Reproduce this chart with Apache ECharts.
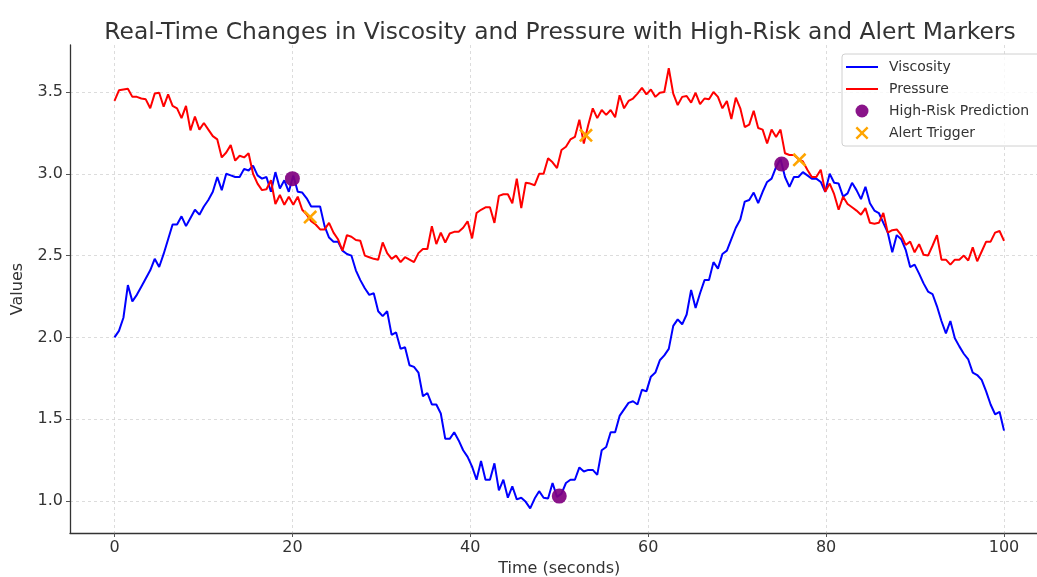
<!DOCTYPE html>
<html>
<head>
<meta charset="utf-8">
<title>Viscosity and Pressure</title>
<script src="https://cdn.jsdelivr.net/npm/echarts@6/dist/echarts.min.js"></script>
<style>
	html, body { margin: 0; padding: 0; background: #fff; }
	#chart { width: 1037px; height: 577px; }
</style>
</head>
<body>
<div id="chart"></div>
<script>
	// values, 200 samples from t = 0 to t = 100
	var viscosity = [
		2.00, 2.04, 2.12, 2.32, 2.22, 2.26, 2.31, 2.36, 2.41, 2.48,
		2.43, 2.51, 2.60, 2.69, 2.69, 2.74, 2.68, 2.73, 2.78, 2.75,
		2.80, 2.84, 2.89, 2.98, 2.90, 3.00, 2.99, 2.98, 2.98, 3.03,
		3.02, 3.05, 2.99, 2.97, 2.98, 2.89, 3.01, 2.91, 2.96, 2.89,
		2.99, 2.89, 2.885, 2.85, 2.80, 2.80, 2.80, 2.68, 2.61, 2.585,
		2.585, 2.53, 2.51, 2.50, 2.41, 2.35, 2.30, 2.26, 2.27, 2.16,
		2.13, 2.16, 2.015, 2.03, 1.93, 1.94, 1.83, 1.82, 1.785, 1.64,
		1.66, 1.59, 1.59, 1.535, 1.38, 1.38, 1.42, 1.37, 1.31, 1.27,
		1.21, 1.13, 1.245, 1.13, 1.13, 1.23, 1.065, 1.13, 1.02, 1.09,
		1.01, 1.02, 0.995, 0.955, 1.015, 1.06, 1.02, 1.015, 1.11, 1.025,
		1.045, 1.11, 1.13, 1.13, 1.205, 1.18, 1.19, 1.19, 1.16, 1.31,
		1.33, 1.42, 1.42, 1.52, 1.56, 1.60, 1.61, 1.59, 1.68, 1.67,
		1.76, 1.785, 1.86, 1.89, 1.93, 2.07, 2.11, 2.08, 2.14, 2.29,
		2.18, 2.27, 2.35, 2.35, 2.46, 2.42, 2.51, 2.53, 2.60, 2.67,
		2.72, 2.83, 2.84, 2.885, 2.82, 2.89, 2.95, 2.97, 3.04, 3.09,
		2.98, 2.92, 2.98, 2.98, 3.01, 2.99, 2.97, 2.97, 2.95, 2.89,
		3.00, 2.945, 2.94, 2.86, 2.88, 2.945, 2.90, 2.845, 2.92, 2.82,
		2.775, 2.76, 2.70, 2.64, 2.52, 2.625, 2.60, 2.535, 2.43, 2.445,
		2.39, 2.33, 2.28, 2.265, 2.19, 2.10, 2.025, 2.10, 1.995, 1.945,
		1.90, 1.865, 1.785, 1.77, 1.74, 1.67, 1.59, 1.53, 1.545, 1.43
	]
	var pressure = [
		3.445, 3.51, 3.515, 3.52, 3.47, 3.47, 3.46, 3.455, 3.40, 3.49,
		3.495, 3.41, 3.485, 3.415, 3.40, 3.34, 3.415, 3.265, 3.35, 3.27,
		3.31, 3.27, 3.23, 3.21, 3.10, 3.13, 3.175, 3.08, 3.11, 3.10,
		3.125, 3.00, 2.94, 2.90, 2.905, 2.96, 2.815, 2.87, 2.81, 2.86,
		2.81, 2.86, 2.78, 2.75, 2.71, 2.69, 2.66, 2.66, 2.70, 2.64,
		2.60, 2.53, 2.625, 2.615, 2.595, 2.59, 2.50, 2.49, 2.48, 2.475,
		2.58, 2.515, 2.48, 2.50, 2.46, 2.49, 2.475, 2.46, 2.515, 2.54,
		2.54, 2.68, 2.57, 2.64, 2.58, 2.635, 2.645, 2.645, 2.67, 2.71,
		2.605, 2.76, 2.78, 2.795, 2.795, 2.70, 2.865, 2.875, 2.875, 2.82,
		2.97, 2.79, 2.945, 2.94, 2.93, 3.00, 3.00, 3.095, 3.07, 3.035,
		3.145, 3.165, 3.21, 3.225, 3.33, 3.185, 3.30, 3.40, 3.34, 3.39,
		3.36, 3.39, 3.345, 3.48, 3.40, 3.445, 3.46, 3.49, 3.525, 3.485,
		3.515, 3.47, 3.495, 3.50, 3.645, 3.49, 3.42, 3.47, 3.475, 3.435,
		3.495, 3.425, 3.46, 3.455, 3.50, 3.47, 3.40, 3.445, 3.335, 3.465,
		3.40, 3.285, 3.30, 3.385, 3.28, 3.27, 3.185, 3.27, 3.225, 3.27,
		3.125, 3.115, 3.115, 3.09, 3.075, 3.025, 2.98, 2.98, 3.025, 2.89,
		2.94, 2.875, 2.78, 2.86, 2.815, 2.795, 2.775, 2.75, 2.79, 2.70,
		2.695, 2.70, 2.76, 2.64, 2.655, 2.66, 2.625, 2.565, 2.585, 2.52,
		2.57, 2.505, 2.50, 2.56, 2.625, 2.475, 2.475, 2.445, 2.475, 2.475,
		2.50, 2.47, 2.55, 2.465, 2.525, 2.585, 2.585, 2.64, 2.65, 2.59
	]
	var highRiskTimes = [20, 50, 75]
	var highRiskValues = [2.97, 1.03, 3.06]
	var alertTimes = [22, 53, 77]
	var alertValues = [2.735, 3.235, 3.085]
	var xTicks = [0, 20, 40, 60, 80, 100]
	var yTicks = [1.0, 1.5, 2.0, 2.5, 3.0, 3.5]

	var font = 'DejaVu Sans'
	var textColor = '#333'
	var crossPath = 'path://M0,1.3 L1.3,0 L5,3.7 L8.7,0 L10,1.3 L6.3,5 L10,8.7 L8.7,10 L5,6.3 L1.3,10 L0,8.7 L3.7,5 Z'
	// thin bar used as the legend sample of a line
	var linePath = 'path://M0,0 L32,0 L32,2 L0,2 Z'

	function pairs(xs, ys) {
		var out = []
		for (var i = 0; i < ys.length; i++) {
			out.push([xs[i], ys[i]])
		}
		return out
	}

	// sampling grid of the time axis (np.linspace(0, 100, 200))
	var times = []
	for (var i = 0; i < viscosity.length; i++) {
		times.push(i * 100 / (viscosity.length - 1))
	}

	var gridLine = {
		show: true,
		lineStyle: { color: '#d4d4d4', type: [3, 3], width: 0.8 }
	}

	var option = {
		animation: false,
		backgroundColor: '#fff',
		title: {
			text: 'Real-Time Changes in Viscosity and Pressure with High-Risk and Alert Markers',
			left: 555,
			textAlign: 'center',
			top: 16,
			textStyle: { fontFamily: font, fontSize: 23.4, fontWeight: 'normal', color: textColor }
		},
		legend: {
			orient: 'vertical',
			left: 842,
			top: 54,
			padding: [6, 20, 6, 4],
			itemWidth: 32,
			itemHeight: 13,
			itemGap: 8,
			symbolKeepAspect: true,
			borderColor: '#d0d0d0',
			borderWidth: 1,
			borderRadius: 3,
			backgroundColor: 'rgba(255,255,255,0.8)',
			textStyle: { fontFamily: font, fontSize: 14, color: textColor, padding: [0, 0, 0, 6] },
			data: [
				{ name: 'Viscosity', icon: linePath },
				{ name: 'Pressure', icon: linePath },
				'High-Risk Prediction',
				'Alert Trigger'
			]
		},
		grid: {
			left: 70,
			right: -11.5,
			top: 45,
			bottom: 44,
			outerBoundsMode: 'none'
		},
		xAxis: {
			type: 'value',
			min: -5,
			max: 105,
			name: 'Time (seconds)',
			nameLocation: 'middle',
			nameGap: 27,
			nameTextStyle: { fontFamily: font, fontSize: 16, color: textColor },
			axisLine: { onZero: false, lineStyle: { color: '#333', width: 1.3 } },
			axisTick: { show: true, length: 4, customValues: xTicks, lineStyle: { color: '#555' } },
			axisLabel: { customValues: xTicks, margin: 7, fontFamily: font, fontSize: 16, color: textColor },
			splitLine: gridLine
		},
		yAxis: {
			type: 'value',
			min: 0.8044,
			max: 3.787,
			name: 'Values',
			nameLocation: 'middle',
			nameGap: 44,
			nameTextStyle: { fontFamily: font, fontSize: 16, color: textColor },
			axisLine: { show: true, onZero: false, lineStyle: { color: '#333', width: 1.3 } },
			axisTick: { show: true, length: 4, customValues: yTicks, lineStyle: { color: '#555' } },
			axisLabel: {
				customValues: yTicks, margin: 7, fontFamily: font, fontSize: 16, color: textColor,
				formatter: function (v) { return v.toFixed(1) }
			},
			splitLine: gridLine
		},
		series: [
			{
				name: 'Viscosity',
				type: 'line',
				data: pairs(times, viscosity),
				symbol: 'none',
				color: '#0000ff',
				lineStyle: { color: '#0000ff', width: 2 },
				z: 2
			},
			{
				name: 'Pressure',
				type: 'line',
				data: pairs(times, pressure),
				symbol: 'none',
				color: '#ff0000',
				lineStyle: { color: '#ff0000', width: 2 },
				z: 3
			},
			{
				name: 'High-Risk Prediction',
				type: 'scatter',
				data: pairs(highRiskTimes, highRiskValues),
				symbol: 'circle',
				symbolSize: 15,
				itemStyle: { color: '#800080', opacity: 0.92 },
				z: 4
			},
			{
				name: 'Alert Trigger',
				type: 'scatter',
				data: pairs(alertTimes, alertValues),
				symbol: crossPath,
				symbolSize: 14,
				itemStyle: { color: '#ffa500', opacity: 1 },
				z: 5
			}
		]
	}

	var myChart = echarts.init(document.getElementById('chart'))
	myChart.setOption(option)
</script>
</body>
</html>
